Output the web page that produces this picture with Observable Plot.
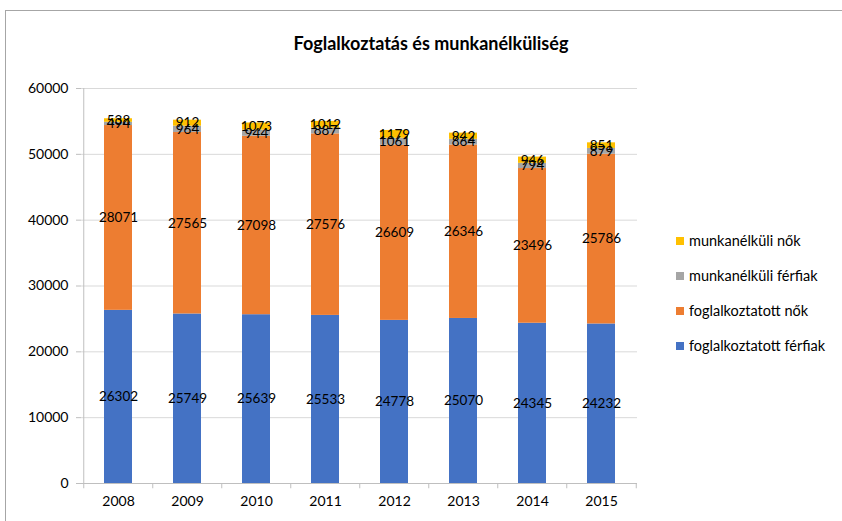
<!DOCTYPE html>
<html>
<head>
<meta charset="utf-8">
<script src="https://cdn.jsdelivr.net/npm/d3@7"></script>
<script src="https://cdn.jsdelivr.net/npm/@observablehq/plot@0.6"></script>
<style>
  html, body { margin: 0; padding: 0; background: #fff; }
  body { width: 842px; height: 521px; overflow: hidden; position: relative; font-family: Lato, "Noto Sans", sans-serif; }
  #border { position: absolute; left: 5px; top: 10px; width: 900px; height: 600px; border: 1px solid #a6a6a6; box-sizing: border-box; }
  #title { position: absolute; top: 32px; left: 431px; transform: translateX(-50%); font-weight: bold; font-size: 18px; white-space: nowrap; color: #000; }
  #chart { position: absolute; left: 0; top: 0; }
  #legend { position: absolute; left: 676px; top: 223px; font-size: 14.5px; color: #000; }
  .li { display: flex; align-items: center; height: 35px; line-height: 18px; }
  .sw { width: 8px; height: 8px; margin-right: 5px; }
</style>
</head>
<body>
<div id="border"></div>
<div id="title">Foglalkoztatás és munkanélküliség</div>
<div id="chart"></div>
<div id="legend"></div>
<script>
const years = ["2008", "2009", "2010", "2011", "2012", "2013", "2014", "2015"];
const seriesNames = ["foglalkoztatott férfiak", "foglalkoztatott nők", "munkanélküli férfiak", "munkanélküli nők"];
const employedMen = [26302, 25749, 25639, 25533, 24778, 25070, 24345, 24232];
const employedWomen = [28071, 27565, 27098, 27576, 26609, 26346, 23496, 25786];
const unemployedMen = [494, 964, 944, 887, 1061, 864, 794, 879];
const unemployedWomen = [538, 912, 1073, 1012, 1179, 942, 946, 851];
const yTicks = [0, 10000, 20000, 30000, 40000, 50000, 60000];
const colors = ["#4472C4", "#ED7D31", "#A5A5A5", "#FFC000"];

const seriesValues = [employedMen, employedWomen, unemployedMen, unemployedWomen];
const data = seriesNames.flatMap((s, i) => years.map((y, j) => ({year: y, series: s, value: seriesValues[i][j]})));

const W = 842, H = 521;
const mL = 81, mR = 205, mT = 88, mB = 38;
const step = (W - mL - mR) / years.length;

const chart = Plot.plot({
  width: W,
  height: H,
  marginLeft: mL,
  marginRight: mR,
  marginTop: mT,
  marginBottom: mB,
  style: {fontFamily: "Lato, 'Noto Sans', sans-serif", background: "transparent", color: "#000"},
  x: {domain: years, paddingInner: 0.6, paddingOuter: 0.3},
  y: {domain: [0, 60000]},
  color: {domain: seriesNames, range: colors},
  marks: [
    Plot.gridY(yTicks, {stroke: "#d9d9d9", strokeOpacity: 1}),
    Plot.barY(data, {x: "year", y: "value", fill: "series"}),
    Plot.ruleY([0], {stroke: "#bfbfbf", strokeWidth: 1.2}),
    Plot.ruleX([years[0]], {x: d => d, y1: 0, y2: 60000, dx: -step / 2, stroke: "#bfbfbf"}),
    Plot.ruleX(years, {x: d => d, y1: 0, y2: -800, dx: -step / 2, stroke: "#bfbfbf"}),
    Plot.ruleX([years[years.length - 1]], {x: d => d, y1: 0, y2: -800, dx: step / 2, stroke: "#bfbfbf"}),
    Plot.text(data, Plot.stackY({x: "year", y: "value", z: "series", text: d => String(d.value), fill: "#000", fontSize: 13.5})),
    Plot.axisX({tickSize: 0, tickPadding: 13, fontSize: 14, label: null}),
    Plot.axisY({ticks: yTicks, tickSize: 5, tickPadding: 8, stroke: "#bfbfbf", fill: "#000", fontSize: 14, tickFormat: d => String(d), label: null})
  ]
});
document.getElementById("chart").appendChild(chart);

const legend = document.getElementById("legend");
for (let i = seriesNames.length - 1; i >= 0; i--) {
  const row = document.createElement("div");
  row.className = "li";
  const sw = document.createElement("div");
  sw.className = "sw";
  sw.style.background = colors[i];
  const t = document.createElement("span");
  t.textContent = seriesNames[i];
  row.appendChild(sw);
  row.appendChild(t);
  legend.appendChild(row);
}
</script>
</body>
</html>
